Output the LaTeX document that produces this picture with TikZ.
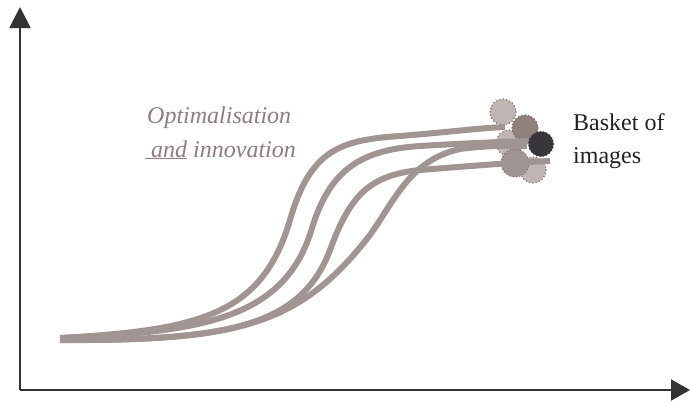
\documentclass[tikz,border=0pt]{standalone}
\usepackage{fontspec}
\setmainfont{Liberation Serif}
\usetikzlibrary{arrows.meta}
\definecolor{axiscol}{RGB}{51,51,51}
\definecolor{curvecol}{RGB}{160,149,146}
\definecolor{lightcol}{RGB}{191,181,179}
\definecolor{midcol}{RGB}{142,129,126}
\definecolor{darkcol}{RGB}{56,54,59}
\definecolor{dotcol}{RGB}{125,114,112}
\definecolor{textcol}{RGB}{140,126,126}
\definecolor{blackcol}{RGB}{34,34,34}
\begin{document}
\begin{tikzpicture}[x=1pt,y=-1pt,
  axis/.style={draw=axiscol,line width=2pt},
  scurve/.style={draw=curvecol,line width=6pt,line cap=butt},
  blob/.style={line width=1.6pt,dash pattern=on 0pt off 3.4pt,line cap=round},
  lbl/.style={inner sep=0pt,anchor=base west,font=\fontsize{24pt}{28pt}\selectfont}]
\useasboundingbox (0,0) rectangle (691,402);
% axes
\coordinate (origin) at (20,390);
\coordinate (ytop) at (20,7);
\coordinate (xend) at (690,390);
\draw[axis,-{Triangle[length=21pt,width=21pt]}] (origin) -- (ytop);
\draw[axis,-{Triangle[length=19pt,width=21pt]}] (origin) -- (xend);
% basket circles (behind)
\fill[lightcol] (503,112) circle (13);
\draw[blob,draw=dotcol] (503,112) circle (13);
\fill[lightcol] (509,143) circle (13);
\draw[blob,draw=dotcol] (509,143) circle (13);
\fill[lightcol] (533,170) circle (13);
\draw[blob,draw=dotcol] (533,170) circle (13);
\fill[curvecol] (515,163) circle (14);
\draw[blob,draw=dotcol] (515,163) circle (14);
\fill[midcol] (525,128) circle (13);
\draw[blob,draw=midcol!80!black] (525,128) circle (13);
% curves
\draw[scurve] (60,338) .. controls (200,330) and (262,315) .. (290,220)
  .. controls (310,150) and (340,140) .. (400,136)
  .. controls (450,132) and (480,128) .. (505,127);
\draw[scurve] (60,338) .. controls (200,332) and (285,320) .. (312,228)
  .. controls (330,170) and (360,150) .. (420,146)
  .. controls (470,143) and (500,142) .. (530,141);
\draw[scurve] (60,340) .. controls (220,340) and (300,330) .. (330,250)
  .. controls (350,195) and (370,175) .. (420,170)
  .. controls (470,166) and (520,162) .. (550,161);
\draw[scurve] (60,340) .. controls (240,341) and (300,325) .. (370,235)
  .. controls (395,200) and (410,160) .. (460,149)
  .. controls (490,145) and (510,146) .. (527,146);
% dark circle on top
\fill[darkcol] (541,144) circle (12.5);
\draw[blob,draw=darkcol] (541,144) circle (12.5);
% texts
\node[lbl,text=textcol] (opt) at (147,123) {\itshape Optimalisation};
\node[lbl,text=textcol] (inn) at (145,157) {\itshape\underline{\ and} innovation};
\node[lbl,text=blackcol] (bask) at (573,130) {Basket of};
\node[lbl,text=blackcol] (img) at (573,163) {images};
\end{tikzpicture}
\end{document}
